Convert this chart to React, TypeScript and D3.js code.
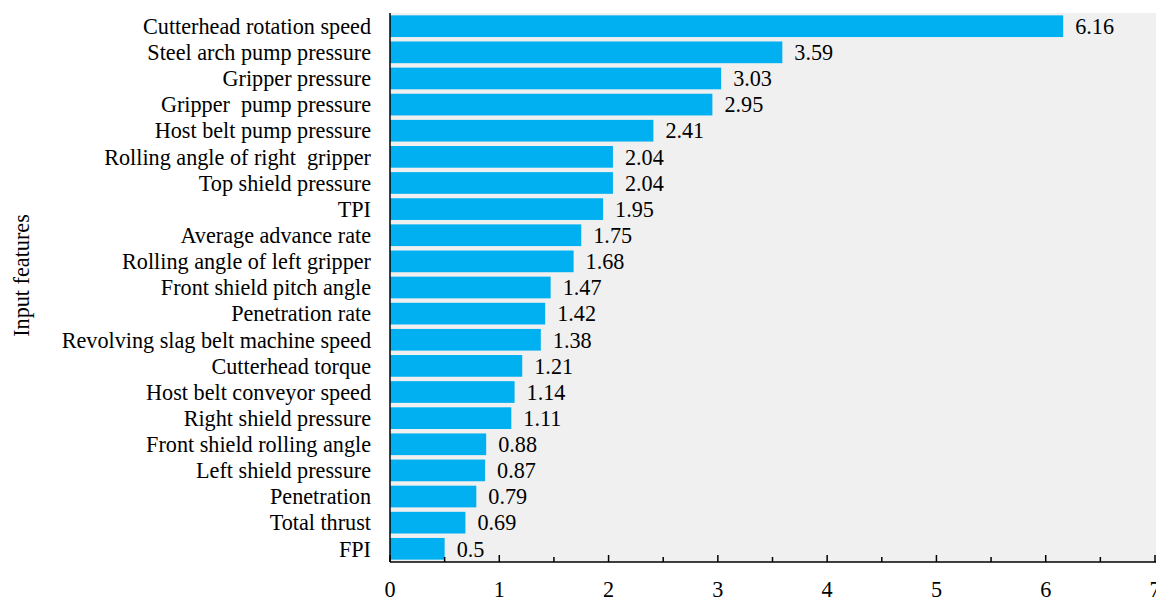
import React from "react";
import * as d3 from "d3";

const features = [
  "Cutterhead rotation speed",
  "Steel arch pump pressure",
  "Gripper pressure",
  "Gripper  pump pressure",
  "Host belt pump pressure",
  "Rolling angle of right  gripper",
  "Top shield pressure",
  "TPI",
  "Average advance rate",
  "Rolling angle of left gripper",
  "Front shield pitch angle",
  "Penetration rate",
  "Revolving slag belt machine speed",
  "Cutterhead torque",
  "Host belt conveyor speed",
  "Right shield pressure",
  "Front shield rolling angle",
  "Left shield pressure",
  "Penetration",
  "Total thrust",
  "FPI",
];
const importance = [6.16, 3.59, 3.03, 2.95, 2.41, 2.04, 2.04, 1.95, 1.75, 1.68, 1.47, 1.42, 1.38, 1.21, 1.14, 1.11, 0.88, 0.87, 0.79, 0.69, 0.5];
const majorTicks = [0, 1, 2, 3, 4, 5, 6, 7];
const minorTicks = [0.5, 1.5, 2.5, 3.5, 4.5, 5.5, 6.5];

const W = 1156;
const H = 601;
const left = 390;
const right = 1155;
const top = 13;
const bottom = 562;
const font = "'Liberation Serif', 'Times New Roman', serif";
const fs = 22.2;

export default function App() {
  const x = d3.scaleLinear().domain([0, 7]).range([left, right]);
  const y = d3.scaleBand<string>().domain(features).range([top, bottom]).paddingInner(0.17).paddingOuter(0.09);
  return (
    <svg width={W} height={H} style={{ position: "absolute", left: 0, top: 0, fontFamily: font }}>
      <rect x={left} y={top} width={W - left} height={bottom - top} fill="#f0f0f0" />
      {features.map((f, i) => (
        <g key={f}>
          <rect x={x(0)} y={y(f)} width={x(importance[i]) - x(0)} height={y.bandwidth()} fill="#00b0f0" />
          <text x={x(importance[i]) + 12} y={y(f)! + y.bandwidth() / 2} dy="0.35em" fontSize={fs} fill="#000">
            {importance[i]}
          </text>
          <text
            x={left - 19}
            y={y(f)! + y.bandwidth() / 2}
            dy="0.35em"
            fontSize={fs}
            textAnchor="end"
            fill="#000"
            xmlSpace="preserve"
            style={{ whiteSpace: "pre" }}
          >
            {f.replace(/  /g, " \u00a0")}
          </text>
        </g>
      ))}
      <line x1={left} x2={right + 1} y1={bottom} y2={bottom} stroke="#000" strokeWidth={1.5} />
      <line x1={left} x2={left} y1={top} y2={bottom} stroke="#000" strokeWidth={1.5} />
      {majorTicks.map((t) => (
        <g key={t}>
          <line x1={x(t)} x2={x(t)} y1={bottom} y2={bottom - 7} stroke="#000" strokeWidth={1.5} />
          <text x={x(t)} y={bottom + 35} textAnchor="middle" fontSize={fs} fill="#000">
            {t}
          </text>
        </g>
      ))}
      {minorTicks.map((t) => (
        <line key={t} x1={x(t)} x2={x(t)} y1={bottom} y2={bottom - 5} stroke="#000" strokeWidth={1.5} />
      ))}
      <text transform={`translate(29, ${(top + bottom) / 2 - 12}) rotate(-90)`} textAnchor="middle" fontSize={fs} fill="#000">
        Input features
      </text>
    </svg>
  );
}
